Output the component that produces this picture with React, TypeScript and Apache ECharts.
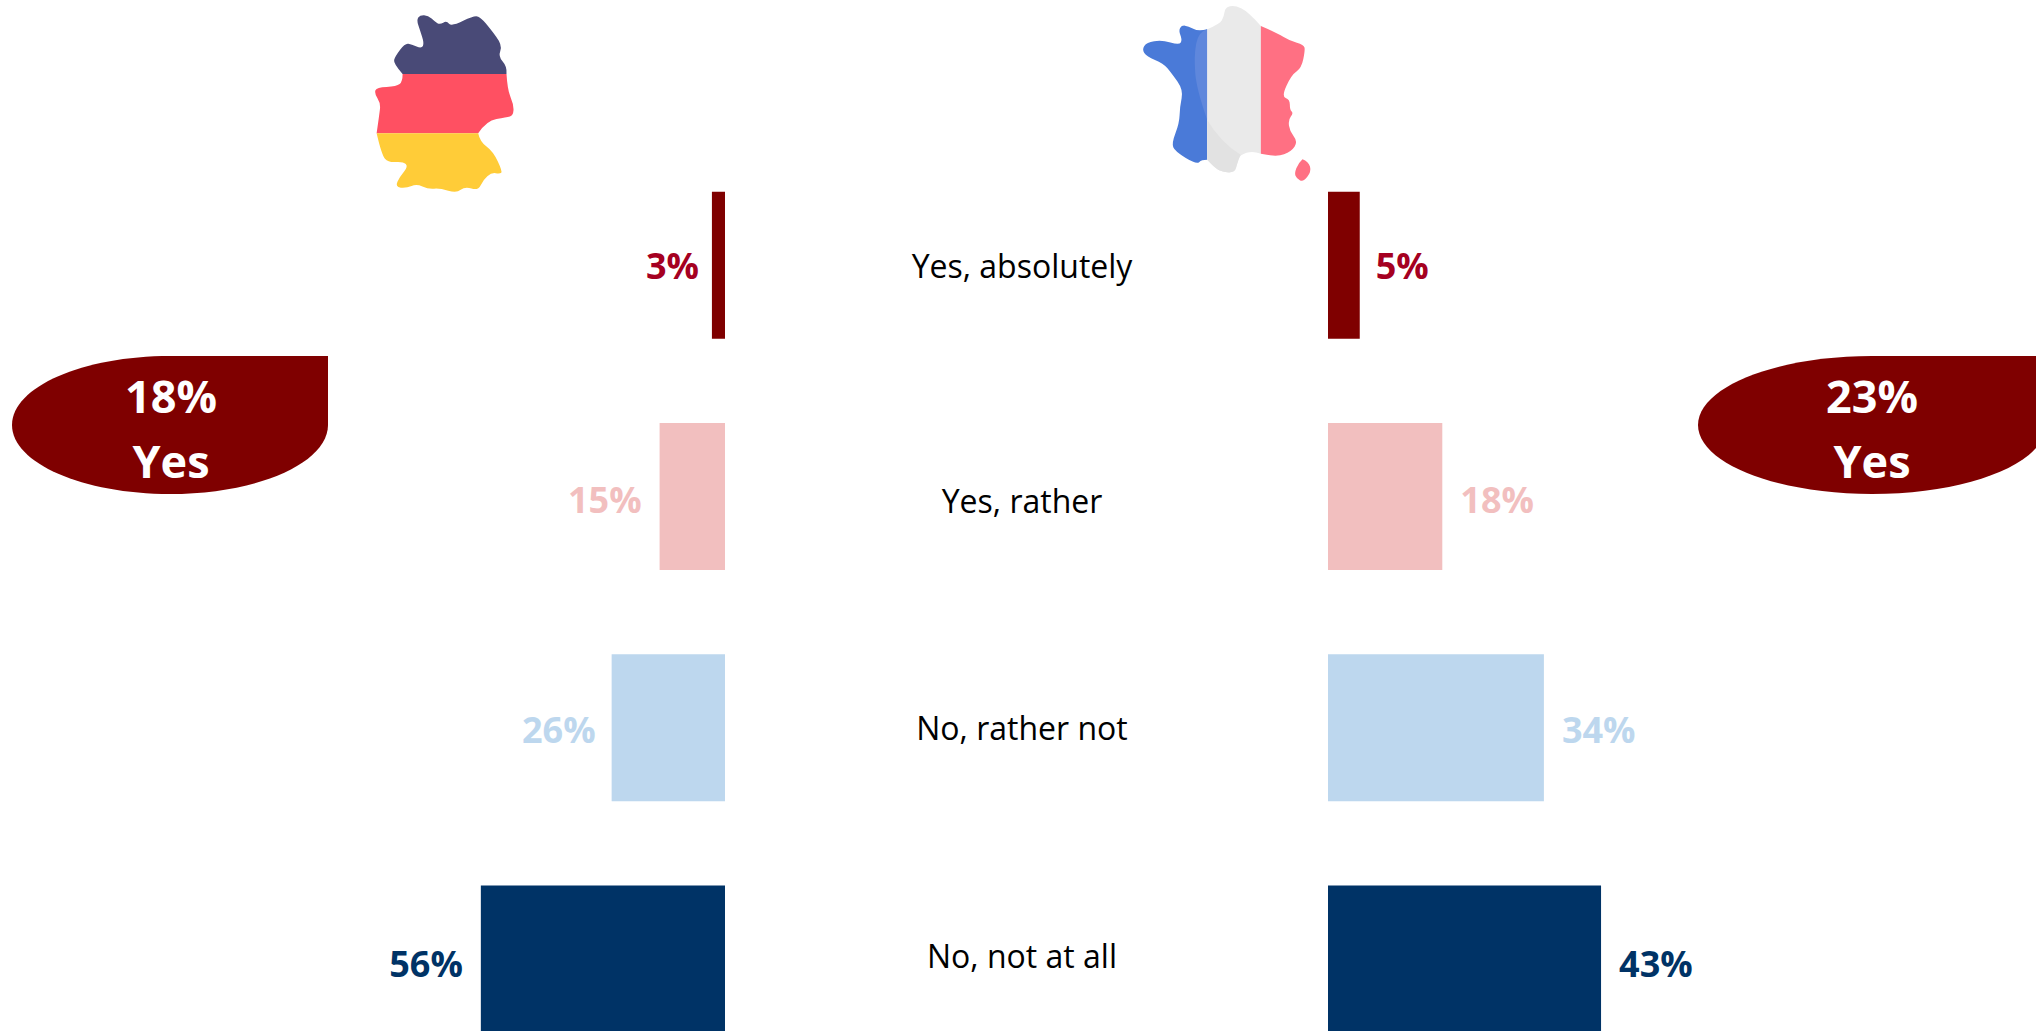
import React, { useEffect, useRef } from "react";
import * as echarts from "echarts";

const categories = ["Yes, absolutely", "Yes, rather", "No, rather not", "No, not at all"];
const germanyValues = [3, 15, 26, 56];
const franceValues = [5, 18, 34, 43];
const barColors = ["#7F0000", "#F2BFBF", "#BDD7EE", "#003366"];
const labelColors = ["#A50021", "#F2BFBF", "#BDD7EE", "#003366"];
const germanyYes = ["18%", "Yes"];
const franceYes = ["23%", "Yes"];

const FONT = "'Open Sans', 'Noto Sans', sans-serif";

type Pt = number[];
// Outline drawing for the decorative maps: each chain is smoothed, chains are joined by straight edges.
function outline(chains: Pt[][]): string {
  let d = "";
  chains.forEach((c, ci) => {
    d += (ci === 0 ? "M" : "L") + c[0][0] + " " + c[0][1] + " ";
    for (let i = 1; i < c.length - 1; i++) {
      const mx = (c[i][0] + c[i + 1][0]) / 2;
      const my = (c[i][1] + c[i + 1][1]) / 2;
      const end = i === c.length - 2 ? c[i + 1] : [mx, my];
      d += `Q${c[i][0]} ${c[i][1]} ${end[0]} ${end[1]} `;
    }
    if (c.length === 2) d += `L${c[1][0]} ${c[1][1]} `;
  });
  return d + "Z";
}

const deTop: Pt[][] = [[[500,222],[502,200],[475,170],[488,135],[450,85],[425,55],[405,45],[335,80],[320,62],[300,74],[285,65],[265,46],[240,45],[230,60],[240,90],[253,130],[245,146],[215,133],[195,130],[165,170],[160,190],[188,222]]];
const deMid: Pt[][] = [[[500,222],[503,270],[522,315],[520,347],[500,352],[440,362],[415,400]],[[110,400],[118,345],[122,310],[103,280],[110,262],[170,260],[188,245],[188,222]]];
const deBot: Pt[][] = [[[415,400],[420,425],[460,455],[488,515],[480,522],[455,518],[430,540],[415,572],[375,560],[350,580],[300,565],[265,568],[230,552],[200,565],[165,562],[180,530],[205,500],[190,485],[145,488],[125,465],[110,400]]];

const frBlue: Pt[][] = [[[262,88],[235,95],[205,78],[185,76],[176,92],[187,120],[178,135],[125,120],[80,128],[66,148],[80,170],[130,190],[155,220],[190,270],[180,320],[178,370],[155,430],[165,455],[230,494],[245,480],[262,480]]];
const frBlueLight: Pt[][] = [[[262,88],[235,95],[222,170],[230,270],[262,360]]];
const frWhite: Pt[][] = [[[262,88],[300,72],[312,50],[316,22],[345,16],[385,35],[423,78]],[[423,462],[400,453],[360,465],[352,490],[345,518],[310,518],[285,505],[262,480]]];
const frShade: Pt[][] = [[[262,360],[300,425],[362,465]],[[362,465],[352,490],[345,518],[310,518],[285,505],[262,480]]];
const frRed: Pt[][] = [[[423,78],[470,98],[510,122],[552,135],[556,150],[545,205],[515,225],[485,290],[510,298],[510,330],[521,340],[505,360],[510,395],[534,425],[515,455],[470,472],[423,462]]];
const frIsle: Pt[][] = [[[548,478],[566,485],[575,515],[550,547],[530,535],[524,520],[535,490],[548,478]]];

const k = 0.5523;
function bubble(left: number, cx: number, right: number, top: number, bottom: number): string {
  const ry = (bottom - top) / 2;
  const cy = top + ry;
  const rxL = cx - left;
  const rxR = right - cx;
  return `M${right} ${top} L${cx} ${top} C${cx - k * rxL} ${top} ${left} ${cy - k * ry} ${left} ${cy} ` +
    `C${left} ${cy + k * ry} ${cx - k * rxL} ${bottom} ${cx} ${bottom} ` +
    `C${cx + k * rxR} ${bottom} ${right} ${cy + k * ry} ${right} ${cy} Z`;
}

const shapes: Record<string, string> = {
  deTop: outline(deTop), deMid: outline(deMid), deBot: outline(deBot),
  frBlue: outline(frBlue), frBlueLight: outline(frBlueLight), frWhite: outline(frWhite),
  frShade: outline(frShade), frRed: outline(frRed), frIsle: outline(frIsle),
  bubbleL: bubble(12, 170, 328, 356, 494),
  bubbleR: bubble(1698, 1872, 2046, 356, 494),
};
Object.keys(shapes).forEach((n) => {
  echarts.graphic.registerShape(n, echarts.graphic.extendPath(shapes[n] as any, {}) as any);
});

const BAND = 231.3;
const GRID_TOP = 149.5;
const GRID_H = BAND * 4;
const LABEL_DY = [0, 3, 2, 4];

function barSeries(values: number[], xAxisIndex: number, yAxisIndex: number, position: string, distances: number[]) {
  return {
    type: "bar",
    xAxisIndex,
    yAxisIndex,
    barWidth: 147,
    silent: true,
    data: values.map((v, i) => ({
      value: v,
      itemStyle: { color: barColors[i] },
      label: { color: labelColors[i], offset: [0, LABEL_DY[i]], distance: distances[i] },
    })),
    label: {
      show: true,
      position,
      formatter: (p: any) => p.value + "%",
      fontFamily: FONT,
      fontSize: 36,
      fontWeight: "bold",
    },
  };
}

export default function App() {
  const ref = useRef<HTMLDivElement>(null);
  useEffect(() => {
    document.body.style.margin = "0";
    const chart = echarts.init(ref.current!, undefined, { renderer: "svg" });
    const map = (type: string, fill: string, ox: number) => ({
      type, x: ox, y: 0, scaleX: 1 / 3, scaleY: 1 / 3, silent: true, style: { fill },
    });
    const bubbleText = (x: number, y: number, text: string) => ({
      type: "text", x, y, silent: true,
      style: { text, fill: "#FFFFFF", font: `bold 45px ${FONT}`, align: "center", verticalAlign: "middle" },
    });
    const token = (padding: number[]) => ({ fontFamily: FONT, fontSize: 32, color: "#000000", padding });
    chart.setOption({
      animation: false,
      backgroundColor: "#FFFFFF",
      grid: [
        { left: 0, width: 725, top: GRID_TOP, height: GRID_H, outerBoundsMode: "none" },
        { left: 1328, width: 708, top: GRID_TOP, height: GRID_H, outerBoundsMode: "none" },
      ],
      xAxis: [
        { type: "value", gridIndex: 0, inverse: true, min: 0, max: 725 / 4.36, show: false },
        { type: "value", gridIndex: 1, min: 0, max: 708 / 6.35, show: false },
      ],
      yAxis: [
        { type: "category", gridIndex: 0, inverse: true, data: categories, show: false },
        {
          type: "category", gridIndex: 1, inverse: true, position: "left", data: categories,
          axisLine: { show: false }, axisTick: { show: false },
          axisLabel: {
            align: "center", margin: 306, color: "#000000", fontFamily: FONT, fontSize: 32,
            formatter: (v: string, i: number) => `{c${i}|${v}}`,
            rich: {
              c0: token([0, 0, 0, 0]),
              c1: token([8, 0, 0, 0]),
              c2: token([0, 0, 0, 0]),
              c3: token([0, 0, 8, 0]),
            },
          },
        },
      ],
      series: [
        barSeries(germanyValues, 0, 0, "left", [13, 18, 16, 18]),
        barSeries(franceValues, 1, 1, "right", [16, 18, 18, 18]),
      ],
      graphic: [
        map("deTop", "#494A77", 340), map("deMid", "#FF5062", 340), map("deBot", "#FFCC38", 340),
        map("frBlue", "#4A7AD8", 1120), map("frBlueLight", "#5F87DC", 1120),
        map("frWhite", "#EAEAEA", 1120), map("frShade", "#E2E2E2", 1120),
        map("frRed", "#FF7083", 1120), map("frIsle", "#FF7083", 1120),
        { type: "bubbleL", silent: true, style: { fill: "#7F0000" } },
        { type: "bubbleR", silent: true, style: { fill: "#7F0000" } },
        bubbleText(171, 395, germanyYes[0]), bubbleText(171, 460, germanyYes[1]),
        bubbleText(1872, 395, franceYes[0]), bubbleText(1872, 460, franceYes[1]),
      ],
    });
    return () => chart.dispose();
  }, []);
  return <div ref={ref} style={{ width: 2036, height: 1031 }} />;
}
